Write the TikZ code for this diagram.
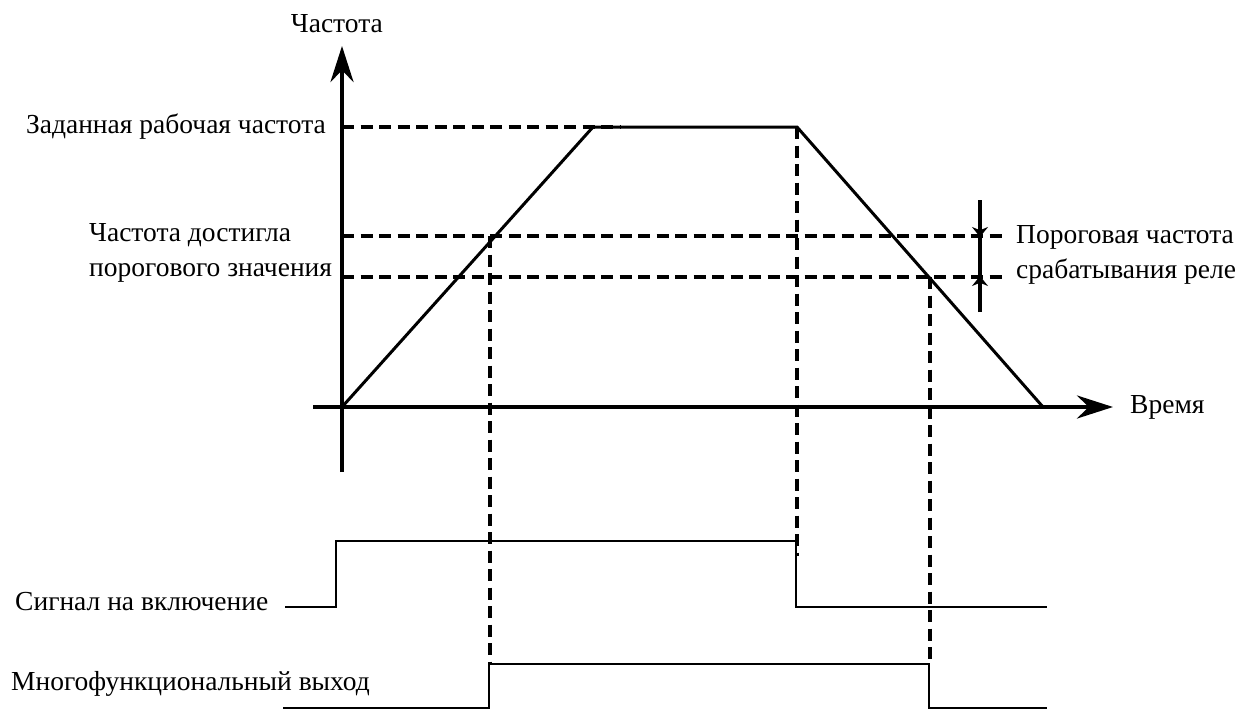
\documentclass[tikz,border=0pt]{standalone}
\usepackage{fontspec}
\setmainfont{Liberation Serif}
\usetikzlibrary{arrows.meta}

\begin{document}
\begin{tikzpicture}[
    x=1pt, y=-1pt,
    >=Stealth,
    lbl/.style={font=\fontsize{27.5}{34.5}\selectfont, inner sep=0pt, align=left},
    axis/.style={line width=4pt, -{Stealth[length=36pt, width=23pt]}},
    ramp/.style={line width=3pt},
    guide/.style={line width=4.5pt, dash pattern=on 12pt off 6.5pt},
    sig/.style={line width=2.8pt},
    hyst/.style={line width=4.2pt, -{Stealth[length=10pt, width=16pt]}},
  ]
  \useasboundingbox (0,0) rectangle (1241,709);

  % --- Key points ---
  \coordinate (o)    at (342,407);
  \coordinate (ytop) at (342,46);
  \coordinate (ybot) at (342,472);
  \coordinate (xl)   at (313,407);
  \coordinate (xr)   at (1113,407);
  \coordinate (up)   at (593,127);
  \coordinate (dn)   at (797,127);
  \coordinate (end)  at (1043,407);
  \coordinate (set)  at (342,127);
  \coordinate (setr) at (620,127);
  \coordinate (hi)   at (342,236);
  \coordinate (hir)  at (1002,236);
  \coordinate (lo)   at (342,277);
  \coordinate (lor)  at (1002,277);
  \coordinate (a1)   at (490,236);
  \coordinate (a2)   at (490,664);
  \coordinate (b1)   at (797,127);
  \coordinate (b2)   at (797,556);
  \coordinate (c1)   at (930,277);
  \coordinate (c2)   at (930,664);

  % --- Labels ---
  \node[lbl, anchor=base east] (flab) at (383,33) {Частота};
  \node[lbl, anchor=base east] (setlab) at (326,133) {Заданная рабочая частота};
  \node[lbl, anchor=base west] (thrlab) at (89,276) {Частота достигла\\порогового значения};
  \node[lbl, anchor=base west] (rellab) at (1016,278) {Пороговая частота\\срабатывания реле};
  \node[lbl, anchor=base west] (tlab) at (1130,413) {Время};
  \node[lbl, anchor=base west] (runlab) at (15,610) {Сигнал на включение};
  \node[lbl, anchor=base west] (outlab) at (11,690) {Многофункциональный выход};

  % --- Dashed guides ---
  \draw[guide] (set) -- (setr);
  \draw[guide] (hi) -- (hir);
  \draw[guide] (lo) -- (lor);
  \draw[guide] (a1) -- (a2);
  \draw[guide] (b1) -- (b2);
  \draw[guide] (c1) -- (c2);

  % --- Axes ---
  \draw[axis] (ybot) -- (ytop);
  \draw[axis] (xl) -- (xr);

  % --- Frequency profile ---
  \draw[ramp] (o) -- (up) -- (dn) -- (end);

  % --- Hysteresis marker ---
  \coordinate (m1) at (980,200);
  \coordinate (m2) at (980,312);
  \draw[line width=4.2pt] (m1) -- (m2);
  \draw[hyst] (m1) -- ([yshift=-1pt]hi -| m1);
  \draw[hyst] (m2) -- ([yshift=1pt]lo -| m1);

  % --- Run signal ---
  \coordinate (r0) at (285,607);
  \coordinate (r1) at (336,607);
  \coordinate (r2) at (336,541);
  \coordinate (r3) at (796,541);
  \coordinate (r4) at (796,607);
  \coordinate (r5) at (1047,607);
  \draw[sig] (r0) -- (r1) -- (r2) -- (r3) -- (r4) -- (r5);

  % --- Relay output ---
  \coordinate (q0) at (283,708);
  \coordinate (q1) at (489,708);
  \coordinate (q2) at (489,664);
  \coordinate (q3) at (929,664);
  \coordinate (q4) at (929,708);
  \coordinate (q5) at (1047,708);
  \draw[sig] (q0) -- (q1) -- (q2) -- (q3) -- (q4) -- (q5);
\end{tikzpicture}
\end{document}
